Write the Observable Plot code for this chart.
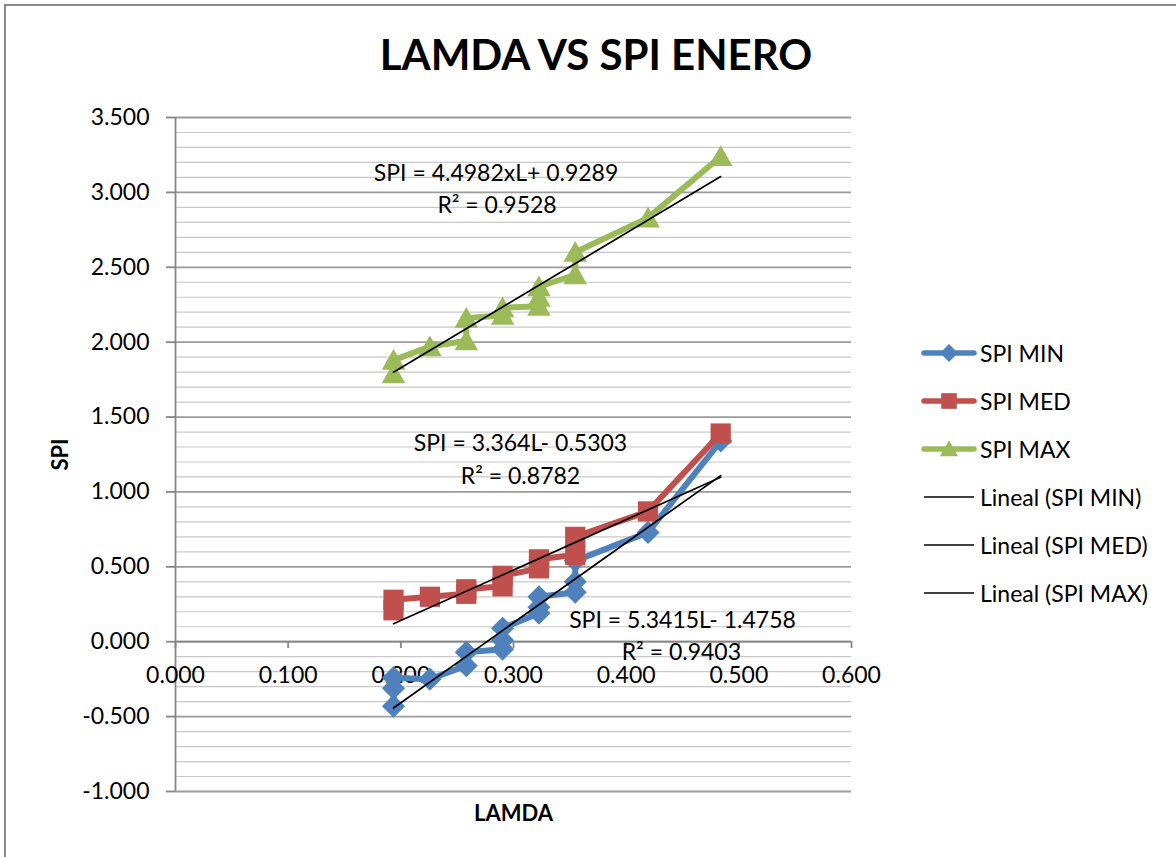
<!DOCTYPE html>
<html>
<head>
<meta charset="utf-8">
<script src="https://cdn.jsdelivr.net/npm/d3@7"></script>
<script src="https://cdn.jsdelivr.net/npm/@observablehq/plot@0.6"></script>
<style>
  body { margin: 0; background: #fff; font-family: Lato, "Open Sans", sans-serif; }
  #wrap { position: relative; width: 1176px; height: 857px; overflow: hidden; background: #fff; }
  #frame { position: absolute; left: 4px; top: 4px; width: 1300px; height: 1000px;
           border-left: 2px solid #8c8c8c; border-top: 2px solid #8c8c8c; }
  #plot { position: absolute; left: 0; top: 0; }
  #title { position: absolute; left: 0; width: 1192px; top: 33px; text-align: center;
           font-weight: bold; font-size: 42px; line-height: 1; color: #000; white-space: nowrap; }
  #legend { position: absolute; left: 921px; top: 0; }
  .row { position: absolute; left: 0; height: 30px; display: flex; align-items: center; white-space: nowrap;
         font-size: 23px; color: #000; }
  .row svg { display: block; }
  .row span { margin-left: 3px; }
</style>
</head>
<body>
<div id="wrap">
  <div id="frame"></div>
  <div id="plot"></div>
  <div id="title">LAMDA VS SPI ENERO</div>
  <div id="legend"></div>
</div>
<script>
// ---- data ----
const lamdaMin = [0.1935, 0.1935, 0.1935, 0.2258, 0.2581, 0.2581, 0.2903, 0.2903, 0.2903, 0.3226, 0.3226, 0.3226, 0.3548, 0.3548, 0.3548, 0.4194, 0.4839];
const spiMin   = [-0.43, -0.31, -0.24, -0.25, -0.16, -0.07, -0.05, 0.01, 0.09, 0.19, 0.23, 0.30, 0.33, 0.40, 0.54, 0.73, 1.34];

const lamdaMed = [0.1935, 0.1935, 0.2258, 0.2581, 0.2581, 0.2903, 0.2903, 0.3226, 0.3226, 0.3548, 0.3548, 0.4194, 0.4839];
const spiMed   = [0.21, 0.28, 0.30, 0.32, 0.35, 0.37, 0.44, 0.49, 0.55, 0.58, 0.70, 0.87, 1.39];

const lamdaMax = [0.1935, 0.1935, 0.2258, 0.2581, 0.2581, 0.2903, 0.2903, 0.3226, 0.3226, 0.3226, 0.3548, 0.3548, 0.4194, 0.4839];
const spiMax   = [1.79, 1.88, 1.97, 2.01, 2.16, 2.18, 2.23, 2.24, 2.30, 2.37, 2.45, 2.60, 2.83, 3.24];

const seriesNames = ["SPI MIN", "SPI MED", "SPI MAX"];
const seriesColors = ["#4F81BD", "#C0504D", "#9BBB59"];

// linear trend lines (Excel "Lineal"), coefficients as printed on the chart
const trendSlopes = [5.3415, 3.364, 4.4982];
const trendIntercepts = [-1.4758, -0.5303, 0.9289];
const trendNames = ["Lineal (SPI MIN)", "Lineal (SPI MED)", "Lineal (SPI MAX)"];

// equation labels
const eqTexts = ["SPI = 5.3415L- 1.4758", "R² = 0.9403", "SPI = 3.364L- 0.5303", "R² = 0.8782", "SPI = 4.4982xL+ 0.9289", "R² = 0.9528"];
const eqLamda = [0.450, 0.449, 0.3062, 0.3062, 0.2845, 0.2854];
const eqSpi   = [0.142, -0.071, 1.324, 1.103, 3.126, 2.913];

// axes
const xTicks = [0, 0.1, 0.2, 0.3, 0.4, 0.5, 0.6];
const yTicks = [-1, -0.5, 0, 0.5, 1, 1.5, 2, 2.5, 3, 3.5];
const yMinor = d3.range(-10, 36).map(i => i / 10).filter(v => !yTicks.some(t => Math.abs(t - v) < 1e-9));

// ---- marker shapes (Excel-like) ----
const diamond = { draw(ctx, size) { const h = Math.sqrt(size / Math.PI) * 1.05;
  ctx.moveTo(0, -h); ctx.lineTo(h, 0); ctx.lineTo(0, h); ctx.lineTo(-h, 0); ctx.closePath(); } };
const square = { draw(ctx, size) { const h = Math.sqrt(size / Math.PI) * 0.92;
  ctx.rect(-h, -h, 2 * h, 2 * h); } };
const triangle = { draw(ctx, size) { const h = Math.sqrt(size / Math.PI) * 1.02;
  ctx.moveTo(0, -h); ctx.lineTo(h * 1.05, 0.85 * h); ctx.lineTo(-h * 1.05, 0.85 * h); ctx.closePath(); } };
const symbols = [diamond, square, triangle];

const lamdas = [lamdaMin, lamdaMed, lamdaMax];
const spis = [spiMin, spiMed, spiMax];
const series = seriesNames.map((name, i) => lamdas[i].map((l, j) => ({ name, lamda: l, spi: spis[i][j] })));

const trendPts = trendNames.flatMap((name, i) => d3.extent(lamdas[i]).map(l => ({ name, lamda: l, spi: trendSlopes[i] * l + trendIntercepts[i] })));
const eqLabels = eqTexts.map((t, i) => ({ text: t, lamda: eqLamda[i], spi: eqSpi[i] }));

const fmt = d => d.toFixed(3);
const FS = 23;

const marks = [
  Plot.ruleY(yMinor, { stroke: "#c8c8c8", strokeWidth: 1.2 }),
  Plot.ruleY(yTicks, { stroke: "#9c9c9c", strokeWidth: 1.8 }),
  Plot.ruleX([0], { stroke: "#868686", strokeWidth: 1.8 }),
  Plot.ruleY([0], { stroke: "#868686", strokeWidth: 1.8 }),
  Plot.ruleX(xTicks, { x: d => d, y1: 0, y2: -0.045, stroke: "#868686", strokeWidth: 1.8 }),
  Plot.text(xTicks, { x: d => d, y: 0, dy: 34, text: fmt, fontSize: FS, fill: "black" }),
  Plot.axisY({ ticks: yTicks, tickSize: 9, tickPadding: 17, tickFormat: fmt, fontSize: FS,
               stroke: "#868686", strokeWidth: 1.8, fill: "black", label: null }),
];
series.forEach((data, i) => {
  marks.push(Plot.line(data, { x: "lamda", y: "spi", stroke: seriesColors[i], strokeWidth: 6, strokeLinejoin: "round", strokeLinecap: "round" }));
  marks.push(Plot.dot(data, { x: "lamda", y: "spi", symbol: symbols[i], r: 11, fill: seriesColors[i], stroke: "none" }));
});
marks.push(
  Plot.line(trendPts, { x: "lamda", y: "spi", z: "name", stroke: "black", strokeWidth: 1.7 }),
  Plot.text(eqLabels, { x: "lamda", y: "spi", text: "text", fontSize: FS, fill: "black" }),
  Plot.text(["SPI"], { frameAnchor: "left", dx: -115, rotate: -90, text: d => d, textAnchor: "middle", lineAnchor: "middle",
                       fontSize: 22, fontWeight: "bold", fill: "black" }),
  Plot.text(["LAMDA"], { frameAnchor: "bottom", dy: 22, text: d => d, textAnchor: "middle", lineAnchor: "middle",
                         fontSize: 22, fontWeight: "bold", fill: "black" })
);

const chart = Plot.plot({
  width: 1176, height: 857,
  marginLeft: 175, marginRight: 325, marginTop: 117, marginBottom: 66,
  x: { domain: [0, 0.6], axis: null },
  y: { domain: [-1, 3.5] },
  style: { fontFamily: "Lato, 'Open Sans', sans-serif", background: "transparent", color: "black" },
  marks
});
document.getElementById("plot").appendChild(chart);

// ---- legend ----
const legend = d3.select("#legend");
const legendY = [353, 401, 449, 497, 545, 593];
const items = [
  ...seriesNames.map((n, i) => ({ name: n, color: seriesColors[i], sym: i, width: 5.5 })),
  ...trendNames.map(n => ({ name: n, color: "black", sym: -1, width: 1.7 }))
];
items.forEach((it, k) => {
  const row = legend.append("div").attr("class", "row").style("top", (legendY[k] - 15) + "px");
  const svg = row.append("svg").attr("width", 56).attr("height", 30);
  if (it.sym >= 0) {
    svg.append("line").attr("x1", 3).attr("x2", 53).attr("y1", 15).attr("y2", 15)
      .attr("stroke", it.color).attr("stroke-width", it.width).attr("stroke-linecap", "round");
    svg.append("path").attr("transform", "translate(28,15)")
      .attr("d", d3.symbol(symbols[it.sym], Math.PI * 8.5 * 8.5)()).attr("fill", it.color);
  } else {
    svg.append("line").attr("x1", 3).attr("x2", 53).attr("y1", 15).attr("y2", 15)
      .attr("stroke", it.color).attr("stroke-width", it.width);
  }
  row.append("span").text(it.name);
});
</script>
</body>
</html>
